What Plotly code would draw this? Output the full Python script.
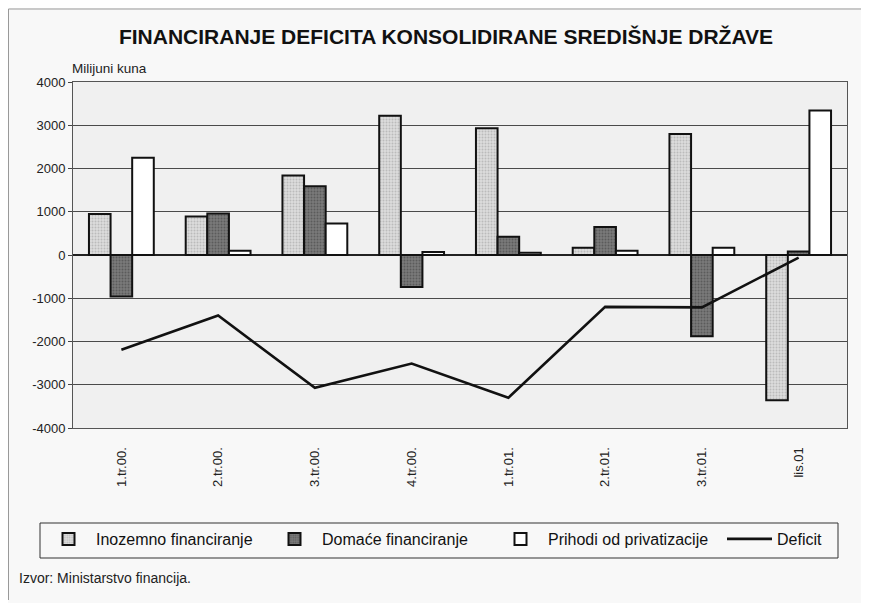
import plotly.graph_objects as go

categories = ["1.tr.00.", "2.tr.00.", "3.tr.00.", "4.tr.00.", "1.tr.01.", "2.tr.01.", "3.tr.01.", "lis.01"]
inozemno = [950, 890, 1840, 3220, 2930, 170, 2800, -3360]
domace = [-960, 960, 1590, -740, 420, 650, -1880, 80]
prihodi = [2250, 100, 730, 70, 50, 100, 170, 3340]
deficit = [-2190, -1400, -3070, -2510, -3300, -1200, -1210, -60]
y_ticks = [4000, 3000, 2000, 1000, 0, -1000, -2000, -3000, -4000]
y_tick_text = [str(v) for v in y_ticks]

OFF = 8  # page body margin
W, H = 861, 595
ML, MR, MT, MB = 65, 22, 74, 175
PW, PH = W - ML - MR, H - MT - MB


def px(xw):
    return (xw - OFF - ML) / PW


def py(yw):
    return (H - MB - (yw - OFF)) / PH


def cx(xw):
    return (xw - OFF) / W


def cy(yw):
    return 1 - (yw - OFF) / H


FONT = "Liberation Sans, Arial, sans-serif"

fig = go.Figure()
fig.add_trace(go.Bar(
    x=categories, y=inozemno, name="Inozemno financiranje",
    marker=dict(color="#d4d4d4", line=dict(color="#111", width=2),
                pattern=dict(shape=".", fgcolor="#9a9a9a", bgcolor="#dcdcdc", size=3, solidity=0.35)),
))
fig.add_trace(go.Bar(
    x=categories, y=domace, name="Domaće financiranje",
    marker=dict(color="#6e6e6e", line=dict(color="#111", width=2),
                pattern=dict(shape=".", fgcolor="#3c3c3c", bgcolor="#7a7a7a", size=3, solidity=0.35)),
))
fig.add_trace(go.Bar(
    x=categories, y=prihodi, name="Prihodi od privatizacije",
    marker=dict(color="#ffffff", line=dict(color="#111", width=2)),
))
fig.add_trace(go.Scatter(
    x=categories, y=deficit, name="Deficit", mode="lines", legend="legend2",
    line=dict(color="#111", width=2.6),
))

n = len(categories)
legend_common = dict(orientation="h", xref="container", yref="container",
                     xanchor="left", yanchor="top", bgcolor="rgba(0,0,0,0)",
                     borderwidth=0, font=dict(family=FONT, size=16, color="#111"),
                     itemwidth=45, traceorder="normal")
fig.update_layout(
    width=W, height=H,
    margin=dict(l=ML, r=MR, t=MT, b=MB),
    paper_bgcolor="#f8f8f8",
    plot_bgcolor="#f0f0f0",
    barmode="group", bargap=0.33, bargroupgap=0,
    font=dict(family=FONT, color="#1a1a1a", size=13),
    title=dict(text="<b>FINANCIRANJE DEFICITA KONSOLIDIRANE SREDIŠNJE DRŽAVE</b>",
               x=cx(446), xanchor="center", y=cy(37), yanchor="middle",
               xref="container", yref="container",
               font=dict(family=FONT, size=21, color="#111")),
    xaxis=dict(type="category", categoryarray=categories, range=[-0.5, n - 0.5],
               tickangle=-90, showgrid=False, showline=True, linecolor="#555", linewidth=1,
               mirror=True, ticks="", ticklabelstandoff=13,
               tickfont=dict(size=13, color="#222")),
    xaxis2=dict(overlaying="x", anchor="free", position=0.5, range=[-0.5, n - 0.5],
                tickvals=[i + 0.5 for i in range(n - 1)], ticks="outside", ticklen=4,
                tickcolor="#333", showticklabels=False, showgrid=False, showline=False,
                zeroline=False),
    yaxis=dict(range=[-4000, 4000], tickvals=y_ticks, ticktext=y_tick_text,
               showgrid=True, gridcolor="#4a4a4a",
               gridwidth=1, zeroline=True, zerolinecolor="#222", zerolinewidth=1.5,
               showline=True, linecolor="#555", linewidth=1, mirror=True,
               ticks="outside", ticklen=4, tickcolor="#444",
               tickfont=dict(size=13, color="#222")),
    showlegend=True,
    legend=dict(x=cx(41), y=cy(522), entrywidth=166, **legend_common),
    legend2=dict(x=cx(722), y=cy(522), **legend_common),
    annotations=[
        dict(text="Milijuni kuna", xref="paper", yref="paper", x=px(70),
             y=py(68), xanchor="left", yanchor="middle", showarrow=False,
             font=dict(size=13.5, color="#222")),
        dict(text="Izvor: Ministarstvo financija.", xref="paper", yref="paper",
             x=px(17), y=py(578), xanchor="left", yanchor="middle", showarrow=False,
             font=dict(size=14, color="#222")),
    ],
    shapes=[
        dict(type="rect", xref="paper", yref="paper",
             x0=px(40), x1=px(838), y0=py(523), y1=py(558),
             line=dict(color="#333", width=1), fillcolor="rgba(0,0,0,0)", layer="below"),
        dict(type="line", xref="paper", yref="paper",
             x0=px(8.5), x1=px(8.5), y0=py(9), y1=py(600),
             line=dict(color="#999", width=1)),
        dict(type="line", xref="paper", yref="paper",
             x0=px(8.5), x1=px(868), y0=py(9), y1=py(9),
             line=dict(color="#999", width=1)),
    ],
)

fig.write_html("out.html")
